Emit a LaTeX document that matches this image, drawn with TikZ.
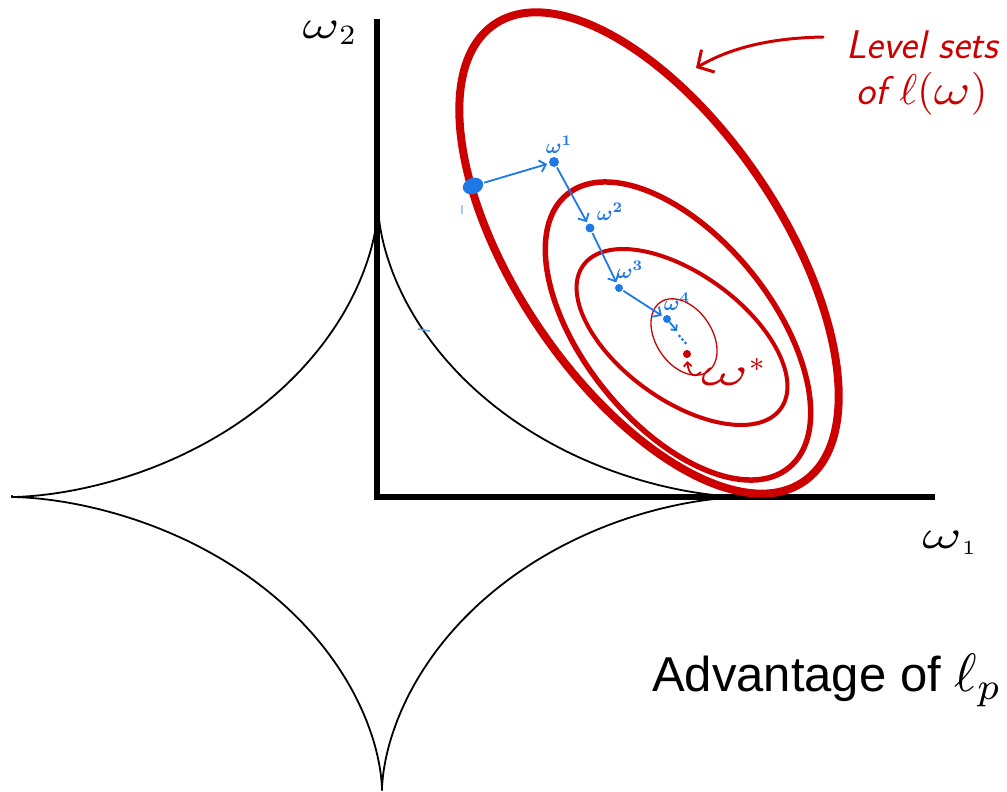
\documentclass[tikz,border=0pt]{standalone}
\usepackage{fontspec}
\usepackage{graphicx}
\usetikzlibrary{arrows.meta,shapes.geometric}
\newfontfamily\helv{Liberation Sans}
\definecolor{rd}{RGB}{204,0,0}
\definecolor{bl}{RGB}{30,120,230}
\tikzset{
  axisline/.style={line width=6pt, line join=miter},
  astro/.style={line width=1.8pt, line cap=round},
  bdot/.style={circle, fill=bl, inner sep=0pt, minimum size=10pt},
  rdot/.style={circle, fill=rd, inner sep=0pt, minimum size=8pt},
  barrow/.style={draw=bl, line width=1.8pt, -{Straight Barb[length=6pt,width=12pt]}, shorten >=2pt, shorten <=1pt},
  blab/.style={text=bl, inner sep=0pt},
  hand/.style={text=rd, font=\fontsize{40}{44}\selectfont\sffamily\itshape, inner sep=0pt},
  axlab/.style={inner sep=0pt},
}
\newcommand{\wideomega}[1]{\scalebox{#1}[1]{$\omega$}}
\begin{document}
\begin{tikzpicture}[x=1pt,y=-1pt]
\useasboundingbox (0,0) rectangle (1007,792);
% axes
\coordinate (O) at (377,497);
\coordinate (Ytop) at (377,19);
\coordinate (Xend) at (935,497);
\draw[axisline] (Ytop) -- (O) -- (Xend);
% l_p ball with p<1
\coordinate (cR) at (744,497);
\coordinate (cT) at (378,205);
\coordinate (cL) at (12,496);
\coordinate (cB) at (382,790);
\draw[astro] (cR) -- plot[domain=1:89, samples=120] ({378+366*pow(cos(\x),10/3)}, {497-292*pow(sin(\x),10/3)}) -- (cT);
\draw[astro] (cT) -- plot[domain=89:1, samples=120] ({378-366*pow(cos(\x),10/3)}, {497-292*pow(sin(\x),10/3)}) -- (cL);
\draw[astro] (cL) -- plot[domain=1:89, samples=120] ({382-370*pow(cos(\x),10/3)}, {497+293*pow(sin(\x),10/3)}) -- (cB);
\draw[astro] (cB) -- plot[domain=89:1, samples=120] ({382+362*pow(cos(\x),10/3)}, {497+293*pow(sin(\x),10/3)}) -- (cR);
% level sets
\draw[rd, line width=8pt, rotate around={-56:(649,253)}] (649,253) ellipse [x radius=276, y radius=133];
\draw[rd, line width=5.5pt, rotate around={-51:(678,331)}] (678,331) ellipse [x radius=176, y radius=94];
\draw[rd, line width=4pt, rotate around={-36:(682,337)}] (682,337) ellipse [x radius=122, y radius=63];
\draw[rd, line width=1.3pt, rotate around={-56:(684,337)}] (684,337) ellipse [x radius=42, y radius=28];
% annotation
\node[hand] (lvl) at (922,45) {Level sets};
\node[hand] (ofl) at (922,94) {of \scalebox{4.3}{\normalsize$\ell(\wideomega{1.3})$}};
\coordinate (annS) at (823,37);
\coordinate (annT) at (696,68);
\draw[rd, line width=3pt, line cap=round, -{Straight Barb[length=12pt,width=26pt]}] (annS) .. controls (770,38) and (730,48) .. (annT);
% axis labels
\node[axlab] (y2) at (330,33) {\scalebox{4}{\normalsize$\wideomega{1.4}_2$}};
\node[axlab] (x1) at (950,543) {\scalebox{4}{\normalsize$\wideomega{1.5}_{\scriptscriptstyle 1}$}};
% stray marks
\draw[bl!70, line width=1.5pt] (418,329) -- (430,331);
\draw[bl!40, line width=1.5pt] (462,205) -- (462,214);
% gradient steps
\node[ellipse, fill=bl, inner sep=0pt, minimum width=21pt, minimum height=16pt, rotate=20] (w0) at (473,186) {};
\node[bdot] (w1) at (554,162) {};
\node[bdot, minimum size=9pt] (w2) at (590,228) {};
\node[bdot, minimum size=8pt] (w3) at (619,288) {};
\node[bdot, minimum size=8pt] (w4) at (667,319) {};
\coordinate (w5) at (677,331);
\node[rdot] (ws) at (687,354) {};
\draw[barrow] (w0) -- (w1);
\draw[barrow] (w1) -- (w2);
\draw[barrow] (w2) -- (w3);
\draw[barrow] (w3) -- (w4);
\draw[draw=bl, line width=1.8pt, -{Straight Barb[length=4pt,width=8pt]}] (w4) -- (w5);
\fill[bl] (679.5,336) circle (1.6) (682.5,339.5) circle (1.6) (685.5,343) circle (1.6);
\node[blab] (l1) at (559,145) {\scalebox{2.1}{\normalsize\boldmath$\omega^1$}};
\node[blab] (l2) at (610,212) {\scalebox{2.1}{\normalsize\boldmath$\omega^2$}};
\node[blab] (l3) at (630,270) {\scalebox{2.1}{\normalsize\boldmath$\omega^3$}};
\node[blab] (l4) at (677,302) {\scalebox{2.1}{\normalsize\boldmath$\omega^4$}};
% optimum label
\node[axlab, text=rd] (wsl) at (734,372) {\scalebox{4}{\normalsize$\wideomega{1.8}^{*}$}};
\draw[rd, line width=1.8pt, -{Straight Barb[length=4pt,width=8pt]}, shorten >=3pt] (wsl.west) .. controls (693,380) and (688,372) .. (ws);
% caption
\node[anchor=base west, inner sep=0pt, font=\helv\fontsize{49}{54}\selectfont] (adv) at (652,691) {Advantage of \scalebox{5.4}{\normalsize$\ell_{p}$}};
\end{tikzpicture}
\end{document}
